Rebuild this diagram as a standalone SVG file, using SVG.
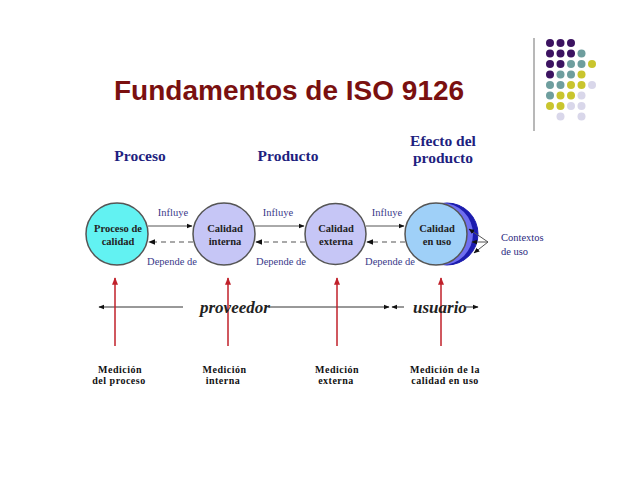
<svg xmlns="http://www.w3.org/2000/svg" width="638" height="493" viewBox="0 0 638 493">
<defs>
<style>
.title{font-family:"Liberation Sans",Arial,sans-serif;font-weight:bold;font-size:28px;fill:#7a1010}
.head{font-family:"Liberation Serif","Times New Roman",serif;font-weight:bold;font-size:15.5px;fill:#1f1f80;text-anchor:middle}
.node{font-family:"Liberation Serif","Times New Roman",serif;font-weight:bold;font-size:10.5px;fill:#222;text-anchor:middle}
.lbl{font-family:"Liberation Serif","Times New Roman",serif;font-size:10.5px;fill:#3a3a8a;text-anchor:middle}
.ctx{font-family:"Liberation Serif","Times New Roman",serif;font-size:10.5px;fill:#2a2a80}
.role{font-family:"Liberation Serif","Times New Roman",serif;font-weight:bold;font-style:italic;font-size:17px;fill:#222}
.meas{font-family:"Liberation Serif","Times New Roman",serif;font-weight:bold;font-size:10px;fill:#111;text-anchor:middle;letter-spacing:0.5px}
.circ{stroke:#555;stroke-width:1.5}
.solid{stroke:#555;stroke-width:1;fill:none}
.dash{stroke:#555;stroke-width:1.2;fill:none;stroke-dasharray:5,4}
.red{stroke:#c0202a;stroke-width:1.5;fill:none}
.blk{stroke:#333;stroke-width:1;fill:none}
.p{fill:#3c1361}.t{fill:#6e9e9e}.y{fill:#c9c52e}.l{fill:#d9d7ea}
</style>
<marker id="ah" viewBox="0 0 10 10" refX="9" refY="5" markerWidth="6" markerHeight="6" orient="auto-start-reverse"><path d="M0,1 L10,5 L0,9 z" fill="#111"/></marker>
<marker id="rh" viewBox="0 0 10 10" refX="9" refY="5" markerWidth="5" markerHeight="5" orient="auto"><path d="M0,1 L10,5 L0,9 z" fill="#c0202a"/></marker>
</defs>
<rect width="638" height="493" fill="#fff"/>

<g id="decor">
<line x1="534" y1="38" x2="534" y2="131" stroke="#a0a0a0" stroke-width="1.5"/>
<circle class="p" cx="550" cy="43" r="4"/><circle class="p" cx="560.5" cy="43" r="4"/><circle class="p" cx="571" cy="43" r="4"/>
<circle class="p" cx="550" cy="53.5" r="4"/><circle class="p" cx="560.5" cy="53.5" r="4"/><circle class="p" cx="571" cy="53.5" r="4"/><circle class="t" cx="581.5" cy="53.5" r="4"/>
<circle class="p" cx="550" cy="64" r="4"/><circle class="p" cx="560.5" cy="64" r="4"/><circle class="t" cx="571" cy="64" r="4"/><circle class="t" cx="581.5" cy="64" r="4"/><circle class="y" cx="592" cy="64" r="4"/>
<circle class="p" cx="550" cy="74.5" r="4"/><circle class="t" cx="560.5" cy="74.5" r="4"/><circle class="t" cx="571" cy="74.5" r="4"/><circle class="y" cx="581.5" cy="74.5" r="4"/>
<circle class="t" cx="550" cy="85" r="4"/><circle class="t" cx="560.5" cy="85" r="4"/><circle class="y" cx="571" cy="85" r="4"/><circle class="y" cx="581.5" cy="85" r="4"/><circle class="l" cx="592" cy="85" r="4"/>
<circle class="t" cx="550" cy="95.5" r="4"/><circle class="y" cx="560.5" cy="95.5" r="4"/><circle class="y" cx="571" cy="95.5" r="4"/><circle class="l" cx="581.5" cy="95.5" r="4"/>
<circle class="y" cx="550" cy="106" r="4"/><circle class="y" cx="560.5" cy="106" r="4"/><circle class="l" cx="571" cy="106" r="4"/><circle class="l" cx="581.5" cy="106" r="4"/>
<circle class="l" cx="560.5" cy="116.5" r="4"/><circle class="l" cx="581.5" cy="116.5" r="4"/>
</g>

<text class="title" x="114" y="100">Fundamentos de ISO 9126</text>

<g id="headings">
<text class="head" x="140" y="161">Proceso</text>
<text class="head" x="288" y="161">Producto</text>
<text class="head" x="443" y="146">Efecto del</text>
<text class="head" x="443" y="163">producto</text>
</g>

<g id="n1"><circle class="circ" cx="117" cy="234" r="31" fill="#62f2f2"/><text class="node" x="118" y="232">Proceso de</text><text class="node" x="118" y="245">calidad</text></g>
<g id="n2"><circle class="circ" cx="224" cy="234" r="31" fill="#c6c6f6"/><text class="node" x="225" y="232">Calidad</text><text class="node" x="225" y="245">interna</text></g>
<g id="n3"><circle class="circ" cx="335.5" cy="234" r="30.5" fill="#c6c6f6"/><text class="node" x="336" y="232">Calidad</text><text class="node" x="336" y="245">externa</text></g>
<g id="n4">
<circle cx="447" cy="234" r="31" fill="#1c1cae" stroke="#1c1cae"/>
<circle cx="442" cy="234" r="31" fill="#6e6ef0"/>
<circle class="circ" cx="436" cy="234" r="31" fill="#9fd0f8"/>
<text class="node" x="437" y="232">Calidad</text><text class="node" x="437" y="245">en uso</text>
</g>
<g id="ctx">
<text class="ctx" x="501" y="241">Contextos</text>
<text class="ctx" x="501" y="255">de uso</text>
</g>

<g id="connectors">
<line class="solid" x1="148" y1="226" x2="192" y2="226" marker-end="url(#ah)"/>
<line class="solid" x1="255" y1="226" x2="304" y2="226" marker-end="url(#ah)"/>
<line class="solid" x1="366" y1="226" x2="404" y2="226" marker-end="url(#ah)"/>
<line class="dash" x1="193" y1="242" x2="149" y2="242" marker-end="url(#ah)"/>
<line class="dash" x1="305" y1="242" x2="256" y2="242" marker-end="url(#ah)"/>
<line class="dash" x1="405" y1="242" x2="367" y2="242" marker-end="url(#ah)"/>
<line class="solid" x1="488" y1="242" x2="469" y2="229" marker-end="url(#ah)"/>
<line class="solid" x1="488" y1="242" x2="472" y2="242" marker-end="url(#ah)"/>
<line class="solid" x1="488" y1="242" x2="474" y2="253" marker-end="url(#ah)"/>
<line class="blk" x1="183" y1="307" x2="99" y2="307" marker-end="url(#ah)"/>
<line class="blk" x1="268" y1="307" x2="389" y2="307" marker-end="url(#ah)"/>
<line class="blk" x1="404" y1="307" x2="392" y2="307" marker-end="url(#ah)"/>
<line class="blk" x1="466" y1="307" x2="478" y2="307" marker-end="url(#ah)"/>
<line class="red" x1="115" y1="346" x2="115" y2="278" marker-end="url(#rh)"/>
<line class="red" x1="228" y1="346" x2="228" y2="278" marker-end="url(#rh)"/>
<line class="red" x1="337" y1="346" x2="337" y2="278" marker-end="url(#rh)"/>
<line class="red" x1="441" y1="346" x2="441" y2="278" marker-end="url(#rh)"/>
</g>

<g id="labels">
<text class="lbl" x="173" y="216">Influye</text>
<text class="lbl" x="278" y="216">Influye</text>
<text class="lbl" x="387" y="216">Influye</text>
<text class="lbl" x="172" y="265">Depende de</text>
<text class="lbl" x="281" y="265">Depende de</text>
<text class="lbl" x="390" y="265">Depende de</text>
</g>

<g id="roles">
<text class="role" x="200" y="313">proveedor</text>
<text class="role" x="413" y="313">usuario</text>
</g>

<g id="measures">
<text class="meas" x="120" y="373">Medición</text><text class="meas" x="119" y="384">del proceso</text>
<text class="meas" x="224.5" y="373">Medición</text><text class="meas" x="223" y="384">interna</text>
<text class="meas" x="337" y="373">Medición</text><text class="meas" x="336" y="384">externa</text>
<text class="meas" x="445" y="373">Medición de la</text><text class="meas" x="445" y="384">calidad en uso</text>
</g>
</svg>
